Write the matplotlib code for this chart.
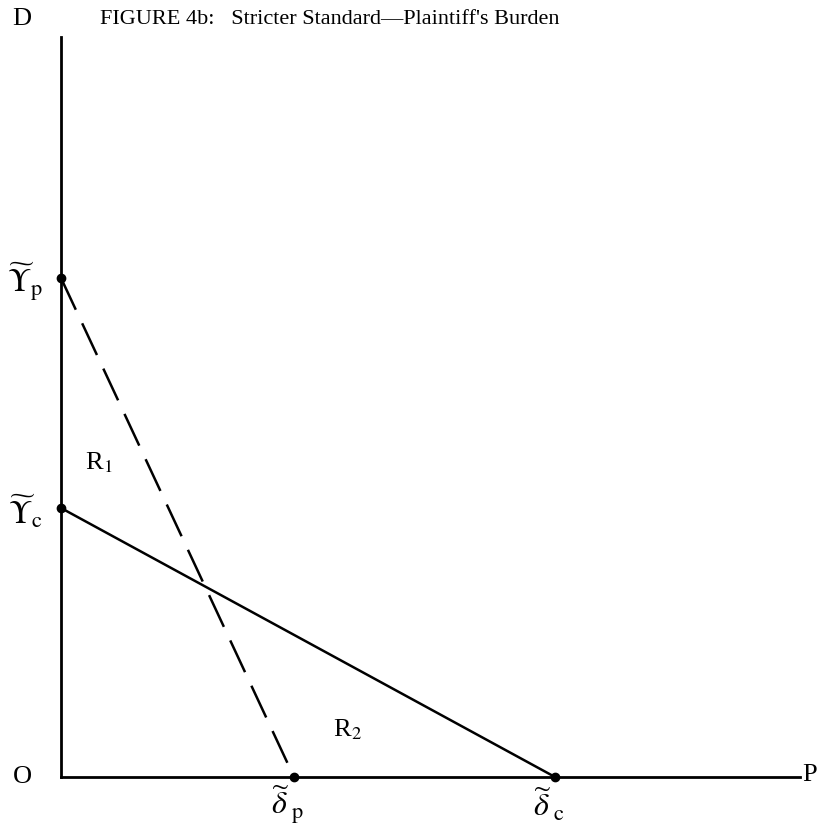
import matplotlib.pyplot as plt

plt.rcParams['mathtext.fontset'] = 'stix'
plt.rcParams['font.family'] = 'Liberation Serif'

# intercepts (arbitrary units, origin at O)
gamma_p = 499   # Y~p on vertical axis
gamma_c = 269   # Y~c on vertical axis
delta_p = 233   # d~p on horizontal axis
delta_c = 494   # d~c on horizontal axis
axis_top = 740
axis_right = 739

fig = plt.figure(figsize=(8.17, 8.31), dpi=100)
ax = fig.add_axes([0, 0, 1, 1])
ax.set_xlim(-61, 756)
ax.set_ylim(-54, 777)
ax.axis('off')

# axes
ax.plot([0, 0], [0, axis_top], color='black', lw=2)
ax.plot([0, axis_right], [0, 0], color='black', lw=2)

# plaintiff's line (dashed) and court's line (solid)
ax.plot([0, delta_p], [gamma_p, 0], color='black', lw=1.8, dashes=(14, 6))
ax.plot([0, delta_c], [gamma_c, 0], color='black', lw=1.8)
ax.plot([0, 0, delta_p, delta_c], [gamma_p, gamma_c, 0, 0], 'o',
        color='black', ms=6)

ax.text(269, 758, "FIGURE 4b:   Stricter Standard\u2014Plaintiff's Burden",
        fontsize=16, ha='center', va='center')
ax.text(-39, 758, 'D', fontsize=19, ha='center', va='center')
ax.text(-39, 0, 'O', fontsize=19, ha='center', va='center')
ax.text(749, 2, 'P', fontsize=19, ha='center', va='center')

ax.text(-36, gamma_p - 4, r'$\widetilde{\mathit{\Upsilon}}_{\mathrm{p}}$',
        fontsize=23, ha='center', va='center')
ax.text(-36, gamma_c - 4, r'$\widetilde{\mathit{\Upsilon}}_{\mathrm{c}}$',
        fontsize=23, ha='center', va='center')
ax.text(delta_p - 6, -28, r'$\widetilde{\delta}_{\ \mathrm{p}}$',
        fontsize=23, ha='center', va='center')
ax.text(delta_c - 6, -28, r'$\widetilde{\delta}_{\ \mathrm{c}}$',
        fontsize=23, ha='center', va='center')

ax.text(38, 314, r'R$_1$', fontsize=19, ha='center', va='center')
ax.text(286, 47, r'R$_2$', fontsize=19, ha='center', va='center')

fig.savefig('out.png', dpi=100)
